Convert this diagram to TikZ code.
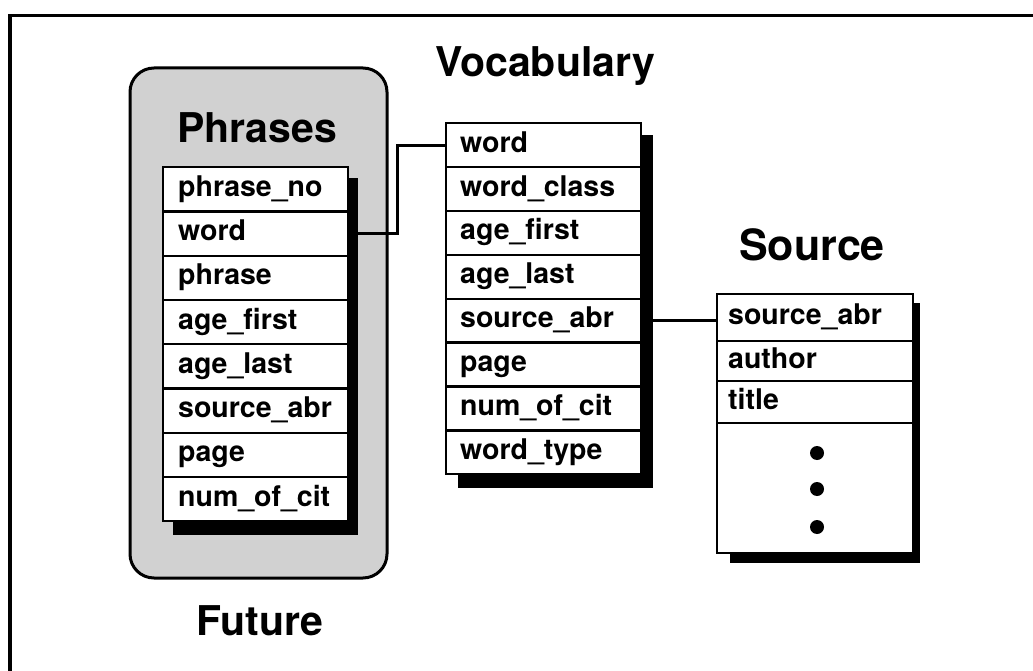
\documentclass[tikz,border=0pt]{standalone}
\usepackage{fontspec}
\setmainfont{TeX Gyre Heros}
\begin{document}
\begin{tikzpicture}[x=1pt,y=-1pt,
  rowbox/.style={draw, fill=white, line width=2.4pt, anchor=north west, align=left,
    text height=20pt, text depth=6pt, inner ysep=0pt,
    font=\fontsize{28.5}{31}\selectfont\bfseries},
  ttl/.style={font=\fontsize{41}{45}\selectfont\bfseries, anchor=base, inner sep=0pt},
  conn/.style={line width=3pt},
  shadowbox/.style={fill=black}]

\useasboundingbox (0,0) rectangle (1033,671);
\draw[line width=3.5pt] (10,671) -- (10,15.5) -- (1033,15.5);

% Future group
\draw[line width=3pt, fill=black!18, rounded corners=24pt] (130,68) rectangle (387,578);

% titles
\node[ttl] (tphr) at (257,143) {Phrases};
\node[ttl] (tvoc) at (545,77) {Vocabulary};
\node[ttl, font=\fontsize{43}{47}\selectfont\bfseries] (tsrc) at (812,260) {Source};
\node[ttl] (tfut) at (260,635) {Future};

% shadows
\fill[shadowbox] (173,178) rectangle (358,535);
\fill[shadowbox] (458,135) rectangle (653,488);
\fill[shadowbox] (730,303) rectangle (920,563);

% Phrases table
\foreach \t [count=\i] in {phrase\_no, word, phrase, age\_first, age\_last, source\_abr, page, num\_of\_cit}
  \node[rowbox, minimum width=185pt, minimum height=44.25pt, text width=155pt, inner xsep=15pt]
    (p\i) at (162,{166+(\i-1)*44.25}) {\t};

% Vocabulary table
\foreach \t [count=\i] in {word, word\_class, age\_first, age\_last, source\_abr, page, num\_of\_cit, word\_type}
  \node[rowbox, minimum width=195pt, minimum height=43.875pt, text width=167pt, inner xsep=14pt]
    (v\i) at (445,{122+(\i-1)*43.875}) {\t};

% Source table
\node[rowbox, minimum width=196pt, minimum height=47pt, text width=174pt, inner xsep=11pt] (s1) at (716,293) {source\_abr};
\node[rowbox, minimum width=196pt, minimum height=40pt, text width=174pt, inner xsep=11pt] (s2) at (716,340) {author};
\node[rowbox, minimum width=196pt, minimum height=42pt, text width=174pt, inner xsep=11pt] (s3) at (716,380) {title};
\node[rowbox, minimum width=196pt, minimum height=130pt, text width=174pt, inner xsep=11pt] (s4) at (716,422) {};
\fill (817,453) circle[radius=7pt];
\fill (817,489) circle[radius=7pt];
\fill (817,527) circle[radius=7pt];

% connectors
\draw[conn] (p2.east) -- ++(48,0) |- (v1.west);
\draw[conn] (v5.east) -- (v5.east -| s1.west);
\end{tikzpicture}
\end{document}
